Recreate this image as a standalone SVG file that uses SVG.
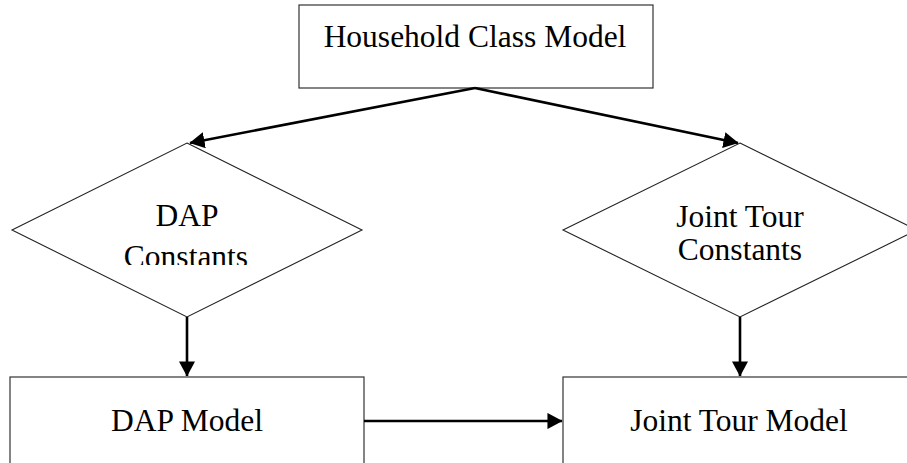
<svg xmlns="http://www.w3.org/2000/svg" width="907" height="463" viewBox="0 0 907 463">
<style>
.box{fill:#fff;stroke:#333;stroke-width:1.2}
.dia{fill:#fff;stroke:#222;stroke-width:1.1}
.lbl{font-family:"Liberation Serif","Times New Roman",serif;font-size:31.5px;fill:#000;text-anchor:middle}
.con{stroke:#000;stroke-width:2.6;fill:none;marker-end:url(#ah)}
</style>
<defs>
<marker id="ah" markerWidth="6" markerHeight="6.2" refX="5.6" refY="3.1" orient="auto" markerUnits="strokeWidth">
<path d="M0,0 L5.8,3.1 L0,6.2 Z" fill="#000"/>
</marker>
<clipPath id="clipDap"><rect x="0" y="0" width="907" height="265"/></clipPath>
</defs>
<rect width="907" height="463" fill="#fff"/>
<g id="household">
<rect class="box" x="299" y="5" width="354" height="83"/>
<text class="lbl" x="475" y="47">Household Class Model</text>
</g>
<g id="dap-constants">
<polygon class="dia" points="187,143 362,230 187,317 12,230"/>
<text class="lbl" x="187" y="226">DAP</text>
<text class="lbl" x="186" y="267" clip-path="url(#clipDap)">Constants</text>
</g>
<g id="joint-constants">
<polygon class="dia" points="740,143 917,230 740,317 563,230"/>
<text class="lbl" x="740" y="227">Joint Tour</text>
<text class="lbl" x="740" y="260">Constants</text>
</g>
<g id="dap-model">
<rect class="box" x="10" y="377" width="354" height="100"/>
<text class="lbl" x="187" y="431">DAP Model</text>
</g>
<g id="joint-model">
<rect class="box" x="563" y="377" width="360" height="100"/>
<text class="lbl" x="739" y="431">Joint Tour Model</text>
</g>
<g id="connectors">
<line class="con" x1="475" y1="88" x2="190" y2="143"/>
<line class="con" x1="475" y1="88" x2="738" y2="143"/>
<line class="con" x1="187" y1="317" x2="187" y2="376"/>
<line class="con" x1="740" y1="317" x2="740" y2="376"/>
<line class="con" x1="364" y1="421" x2="562" y2="421"/>
</g>
</svg>
